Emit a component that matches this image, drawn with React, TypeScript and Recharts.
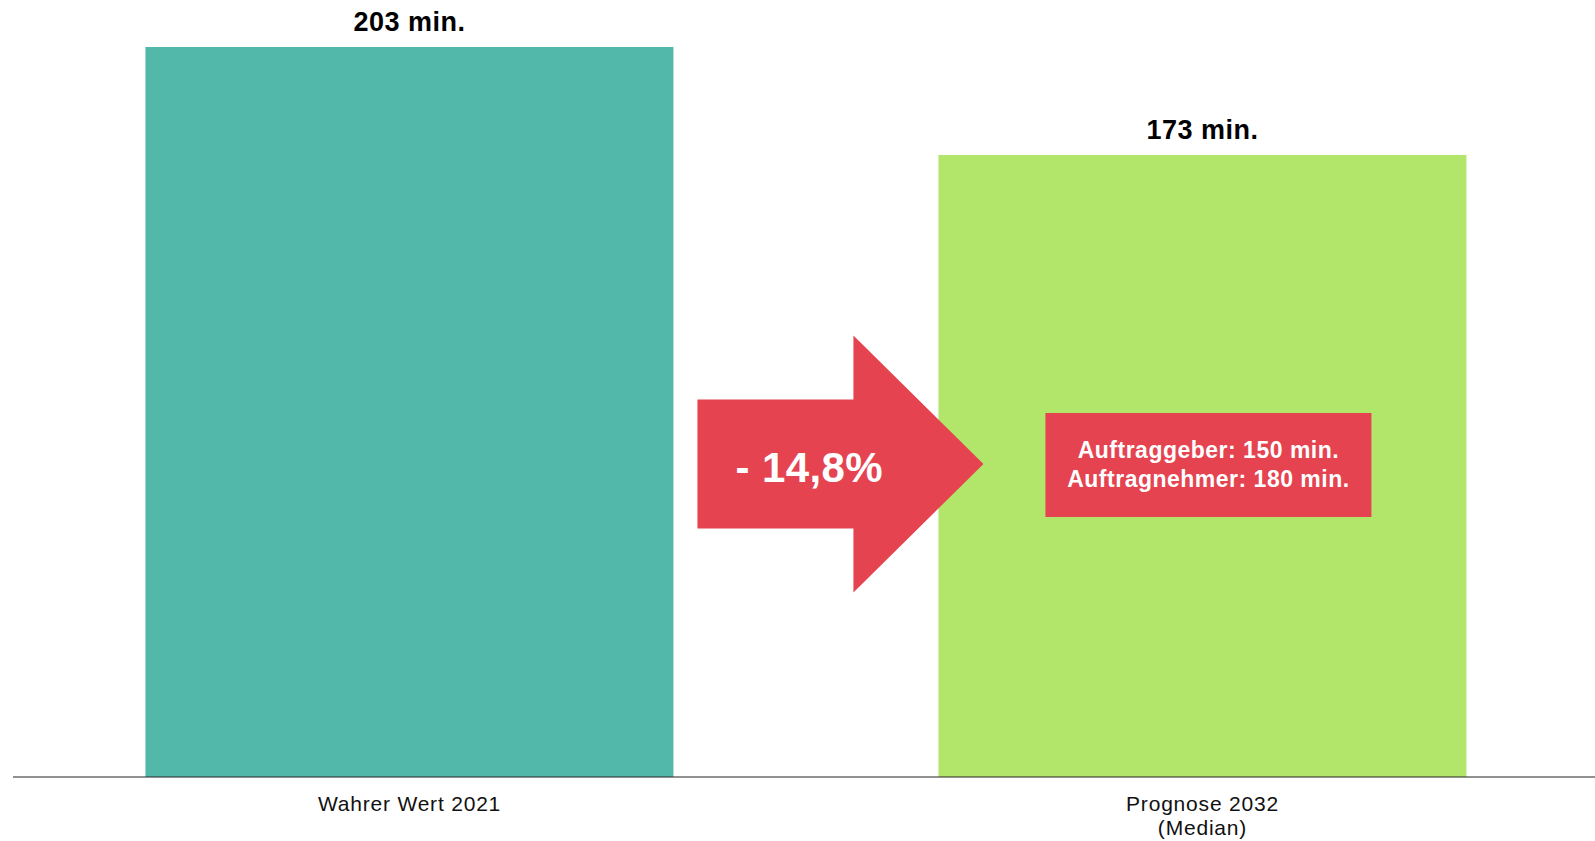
import { BarChart, Bar, XAxis, YAxis, Cell, LabelList } from 'recharts'

const categories = ['Wahrer Wert 2021', 'Prognose 2032\n(Median)']
const minutes = [203, 173]
const changeLabel = '- 14,8%'
const splitLines = ['Auftraggeber: 150 min.', 'Auftragnehmer: 180 min.']

const BAR_COLORS = ['#52b9aa', '#b2e66a']
const RED = '#e64351'
const FONT = '"Liberation Sans", Arial, Helvetica, sans-serif'

const data = categories.map((name, i) => ({ name, value: minutes[i] }))

function AxisTick(props: any) {
  const { x, y, payload } = props
  const lines = String(payload.value).split('\n')
  return (
    <text
      x={x}
      y={y + 32}
      textAnchor="middle"
      fontSize={21}
      letterSpacing={0.8}
      fontFamily={FONT}
      fill="#111"
    >
      {lines.map((l, i) => (
        <tspan key={i} x={x} dy={i === 0 ? 0 : 24}>
          {l}
        </tspan>
      ))}
    </text>
  )
}

function ValueLabel(props: any) {
  const { x, y, width, value } = props
  return (
    <text
      x={Number(x) + Number(width) / 2}
      y={Number(y) - 16}
      textAnchor="middle"
      fontSize={27}
      fontWeight={700}
      letterSpacing={0.5}
      fontFamily={FONT}
      fill="#000"
    >
      {value} min.
    </text>
  )
}

// arrow after the first bar, red box inside the second one
function Annotation(props: any) {
  const { x, y, width, height, index } = props
  const bx = Number(x)
  const bw = Number(width)
  const bottom = Number(y) + Number(height)
  if (index === 0) {
    const left = bx + bw + 24
    const neck = bx + bw + 180
    const tip = bx + bw + 310
    const cy = bottom - 313
    const pts = [
      [left, cy - 64.5],
      [neck, cy - 64.5],
      [neck, cy - 128.5],
      [tip, cy],
      [neck, cy + 128.5],
      [neck, cy + 64.5],
      [left, cy + 64.5],
    ]
    return (
      <g>
        <polygon points={pts.map((p) => p.join(',')).join(' ')} fill={RED} />
        <text
          x={left + 38}
          y={cy + 18}
          fontSize={42}
          fontWeight={700}
          letterSpacing={0.4}
          fontFamily={FONT}
          fill="#fff"
        >
          {changeLabel}
        </text>
      </g>
    )
  }
  const cx = bx + bw / 2 + 6
  const cy = bottom - 312
  return (
    <g>
      <rect x={cx - 163} y={cy - 52} width={326} height={104} fill={RED} />
      <text
        textAnchor="middle"
        fontSize={23}
        fontWeight={700}
        letterSpacing={0.5}
        fontFamily={FONT}
        fill="#fff"
      >
        {splitLines.map((l, i) => (
          <tspan key={i} x={cx} y={cy - 7 + i * 29}>
            {l}
          </tspan>
        ))}
      </text>
    </g>
  )
}

export default function App() {
  return (
    <div
      style={{
        position: 'absolute',
        left: 0,
        top: 0,
        width: 1595,
        height: 841,
        overflow: 'hidden',
        background: '#fff',
      }}
    >
      <BarChart
        width={1599}
        height={841}
        data={data}
        margin={{ top: 47, right: 0, bottom: 0, left: 13 }}
        barCategoryGap="16.7%"
      >
        <XAxis
          dataKey="name"
          height={64}
          tickLine={false}
          tickSize={0}
          tickMargin={2}
          interval={0}
          axisLine={{ stroke: '#222', strokeWidth: 1 }}
          tick={<AxisTick />}
        />
        <YAxis hide domain={[0, 203]} />
        <Bar dataKey="value" isAnimationActive={false}>
          {data.map((_, i) => (
            <Cell key={i} fill={BAR_COLORS[i]} />
          ))}
          <LabelList dataKey="value" content={<ValueLabel />} />
          <LabelList dataKey="value" content={<Annotation />} />
        </Bar>
      </BarChart>
    </div>
  )
}
